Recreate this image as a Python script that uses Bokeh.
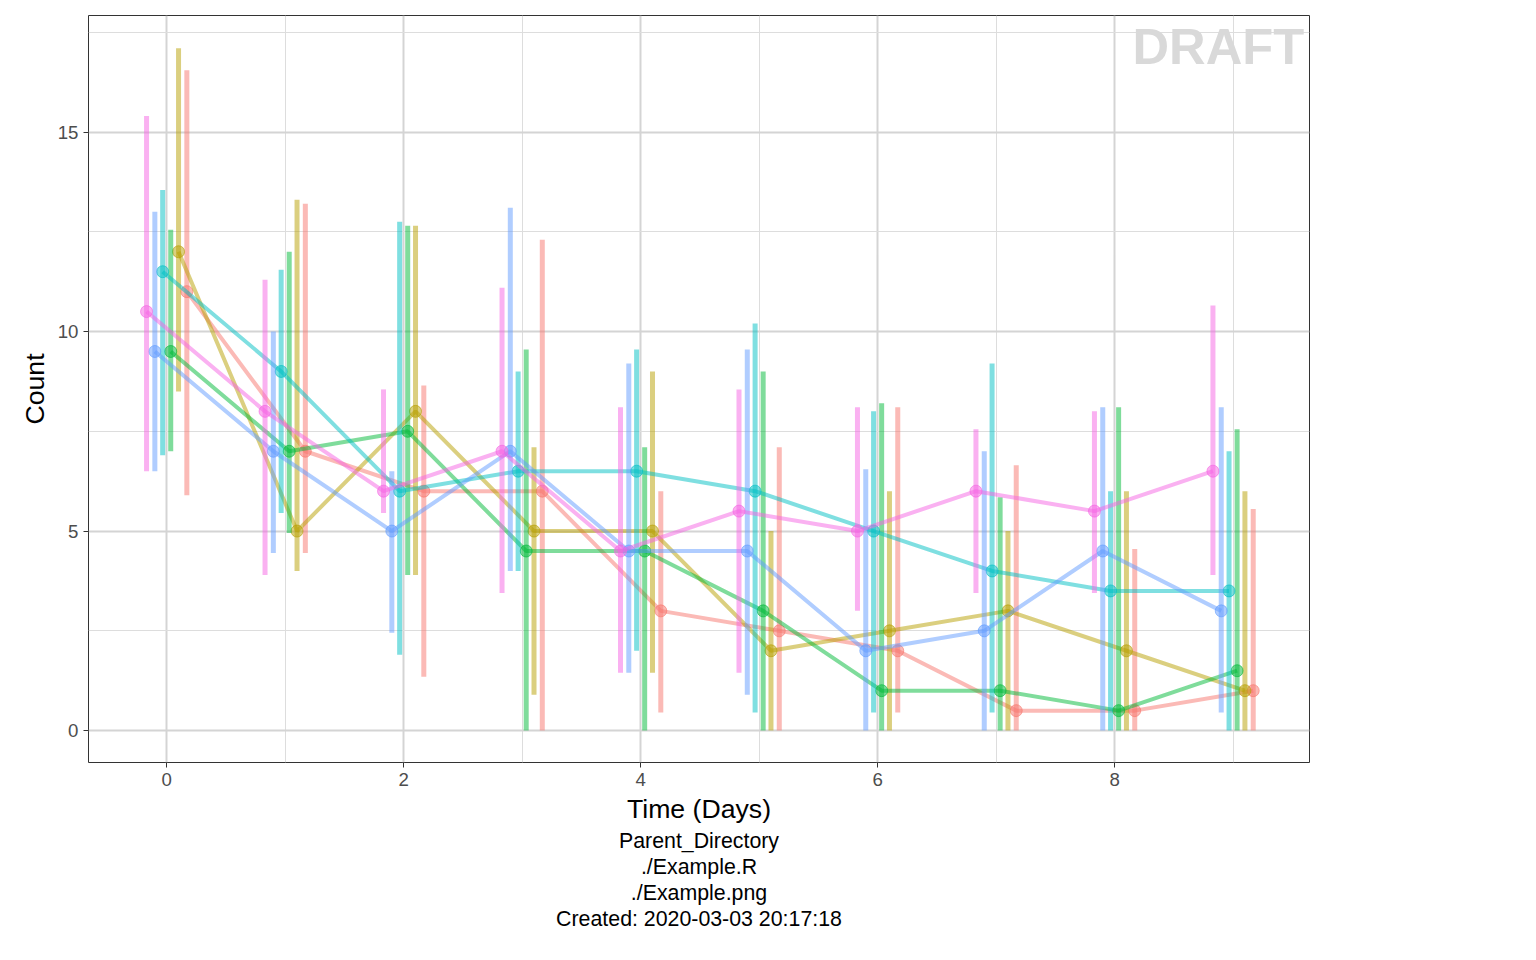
from bokeh.plotting import figure
from bokeh.models import Legend, LegendItem, Label, Title, FixedTicker, Range1d
from bokeh.embed import file_html
from bokeh.resources import INLINE

days = [0, 1, 2, 3, 4, 5, 6, 7, 8, 9]
groups = ["1600 mg", "800 mg", "400 mg", "200 mg", "100 mg", "Placebo"]
colors = ["#F8766D", "#B79F00", "#00BA38", "#00BFC4", "#619CFF", "#F564E3"]
offsets = [0.17, 0.10, 0.034, -0.034, -0.10, -0.17]

means = {
    "1600 mg": [11.0, 7.0, 6.0, 6.0, 3.0, 2.5, 2.0, 0.5, 0.5, 1.0],
    "800 mg":  [12.0, 5.0, 8.0, 5.0, 5.0, 2.0, 2.5, 3.0, 2.0, 1.0],
    "400 mg":  [9.5, 7.0, 7.5, 4.5, 4.5, 3.0, 1.0, 1.0, 0.5, 1.5],
    "200 mg":  [11.5, 9.0, 6.0, 6.5, 6.5, 6.0, 5.0, 4.0, 3.5, 3.5],
    "100 mg":  [9.5, 7.0, 5.0, 7.0, 4.5, 4.5, 2.0, 2.5, 4.5, 3.0],
    "Placebo": [10.5, 8.0, 6.0, 7.0, 4.5, 5.5, 5.0, 6.0, 5.5, 6.5],
}
lows = {
    "1600 mg": [5.9, 4.45, 1.35, 0.0, 0.45, 0.0, 0.45, 0.0, 0.0, 0.0],
    "800 mg":  [8.5, 4.0, 3.9, 0.9, 1.45, 0.0, 0.0, 0.0, 0.0, 0.0],
    "400 mg":  [7.0, 4.95, 3.9, 0.0, 0.0, 0.0, 0.0, 0.0, 0.0, 0.0],
    "200 mg":  [6.9, 5.45, 1.9, 4.0, 2.0, 0.45, 0.45, 0.45, 0.0, 0.0],
    "100 mg":  [6.5, 4.45, 2.45, 4.0, 1.45, 0.9, 0.0, 0.0, 0.0, 0.45],
    "Placebo": [6.5, 3.9, 5.45, 3.45, 1.45, 1.45, 3.0, 3.45, 3.45, 3.9],
}
highs = {
    "1600 mg": [16.55, 13.2, 8.65, 12.3, 6.0, 7.1, 8.1, 6.65, 4.55, 5.55],
    "800 mg":  [17.1, 13.3, 12.65, 7.1, 9.0, 5.0, 6.0, 5.0, 6.0, 6.0],
    "400 mg":  [12.55, 12.0, 12.65, 9.55, 7.1, 9.0, 8.2, 5.85, 8.1, 7.55],
    "200 mg":  [13.55, 11.55, 12.75, 9.0, 9.55, 10.2, 8.0, 9.2, 6.0, 7.0],
    "100 mg":  [13.0, 10.0, 6.5, 13.1, 9.2, 9.55, 6.55, 7.0, 8.1, 8.1],
    "Placebo": [15.4, 11.3, 8.55, 11.1, 8.1, 8.55, 8.1, 7.55, 8.0, 10.65],
}

p = figure(frame_width=1221, frame_height=747, output_backend="svg", toolbar_location=None,
           x_range=Range1d(-0.66, 9.645), y_range=Range1d(-0.8, 17.92),
           min_border_left=88, min_border_top=15, min_border_right=5,
           x_axis_label="Time (Days)", y_axis_label="Count")

items = []
for g, c, off in zip(groups, colors, offsets):
    xs = [d + off for d in days]
    p.segment(xs, lows[g], xs, highs[g], line_color=c, line_width=5, line_alpha=0.5)
    ln = p.line(xs, means[g], line_color=c, line_width=4, line_alpha=0.5)
    sc = p.scatter(xs, means[g], size=12, fill_color=c, line_color=c, fill_alpha=0.5, line_alpha=0.6)
    items.append(LegendItem(label=g, renderers=[ln, sc]))

legend = Legend(items=items, location="center", border_line_color=None,
                label_text_font="Liberation Sans", label_text_font_size="15pt",
                glyph_width=36, glyph_height=30, spacing=16, label_standoff=16,
                margin=10, padding=10)
p.add_layout(legend, "right")

p.xaxis.ticker = FixedTicker(ticks=[0, 2, 4, 6, 8], minor_ticks=[1, 3, 5, 7, 9])
p.yaxis.ticker = FixedTicker(ticks=[0, 5, 10, 15], minor_ticks=[2.5, 7.5, 12.5, 17.5])
for ax in (p.xaxis, p.yaxis):
    ax.major_label_text_font = "Liberation Sans"
    ax.major_label_text_font_size = "14pt"
    ax.major_label_text_color = "#4D4D4D"
    ax.axis_label_text_font = "Liberation Sans"
    ax.axis_label_text_font_size = "20pt"
    ax.axis_label_text_font_style = "normal"
    ax.axis_label_text_color = "black"
    ax.minor_tick_line_color = None
    ax.axis_line_color = None
    ax.major_tick_line_color = "#333333"
    ax.major_tick_in = 0
    ax.major_tick_out = 5
p.grid.grid_line_color = "#D4D4D4"
p.grid.grid_line_width = 2
p.grid.minor_grid_line_color = "#DDDDDD"
p.grid.minor_grid_line_width = 1
p.outline_line_color = "#333333"
p.outline_line_width = 1

p.add_layout(Label(x=9.6, y=17.85, text="DRAFT", text_align="right", text_baseline="top",
                   text_font="Liberation Sans", text_font_style="bold", text_font_size="38pt",
                   text_color="#D9D9D9"))

captions = ["Parent_Directory", "./Example.R", "./Example.png", "Created: 2020-03-03 20:17:18"]
for cap in captions:
    p.add_layout(Title(text=cap, align="center", text_font="Liberation Sans",
                       text_font_size="16pt", text_font_style="normal", text_color="black",
                       standoff=0, offset=0), "below")

open("out.html", "w").write(file_html(p, INLINE))
